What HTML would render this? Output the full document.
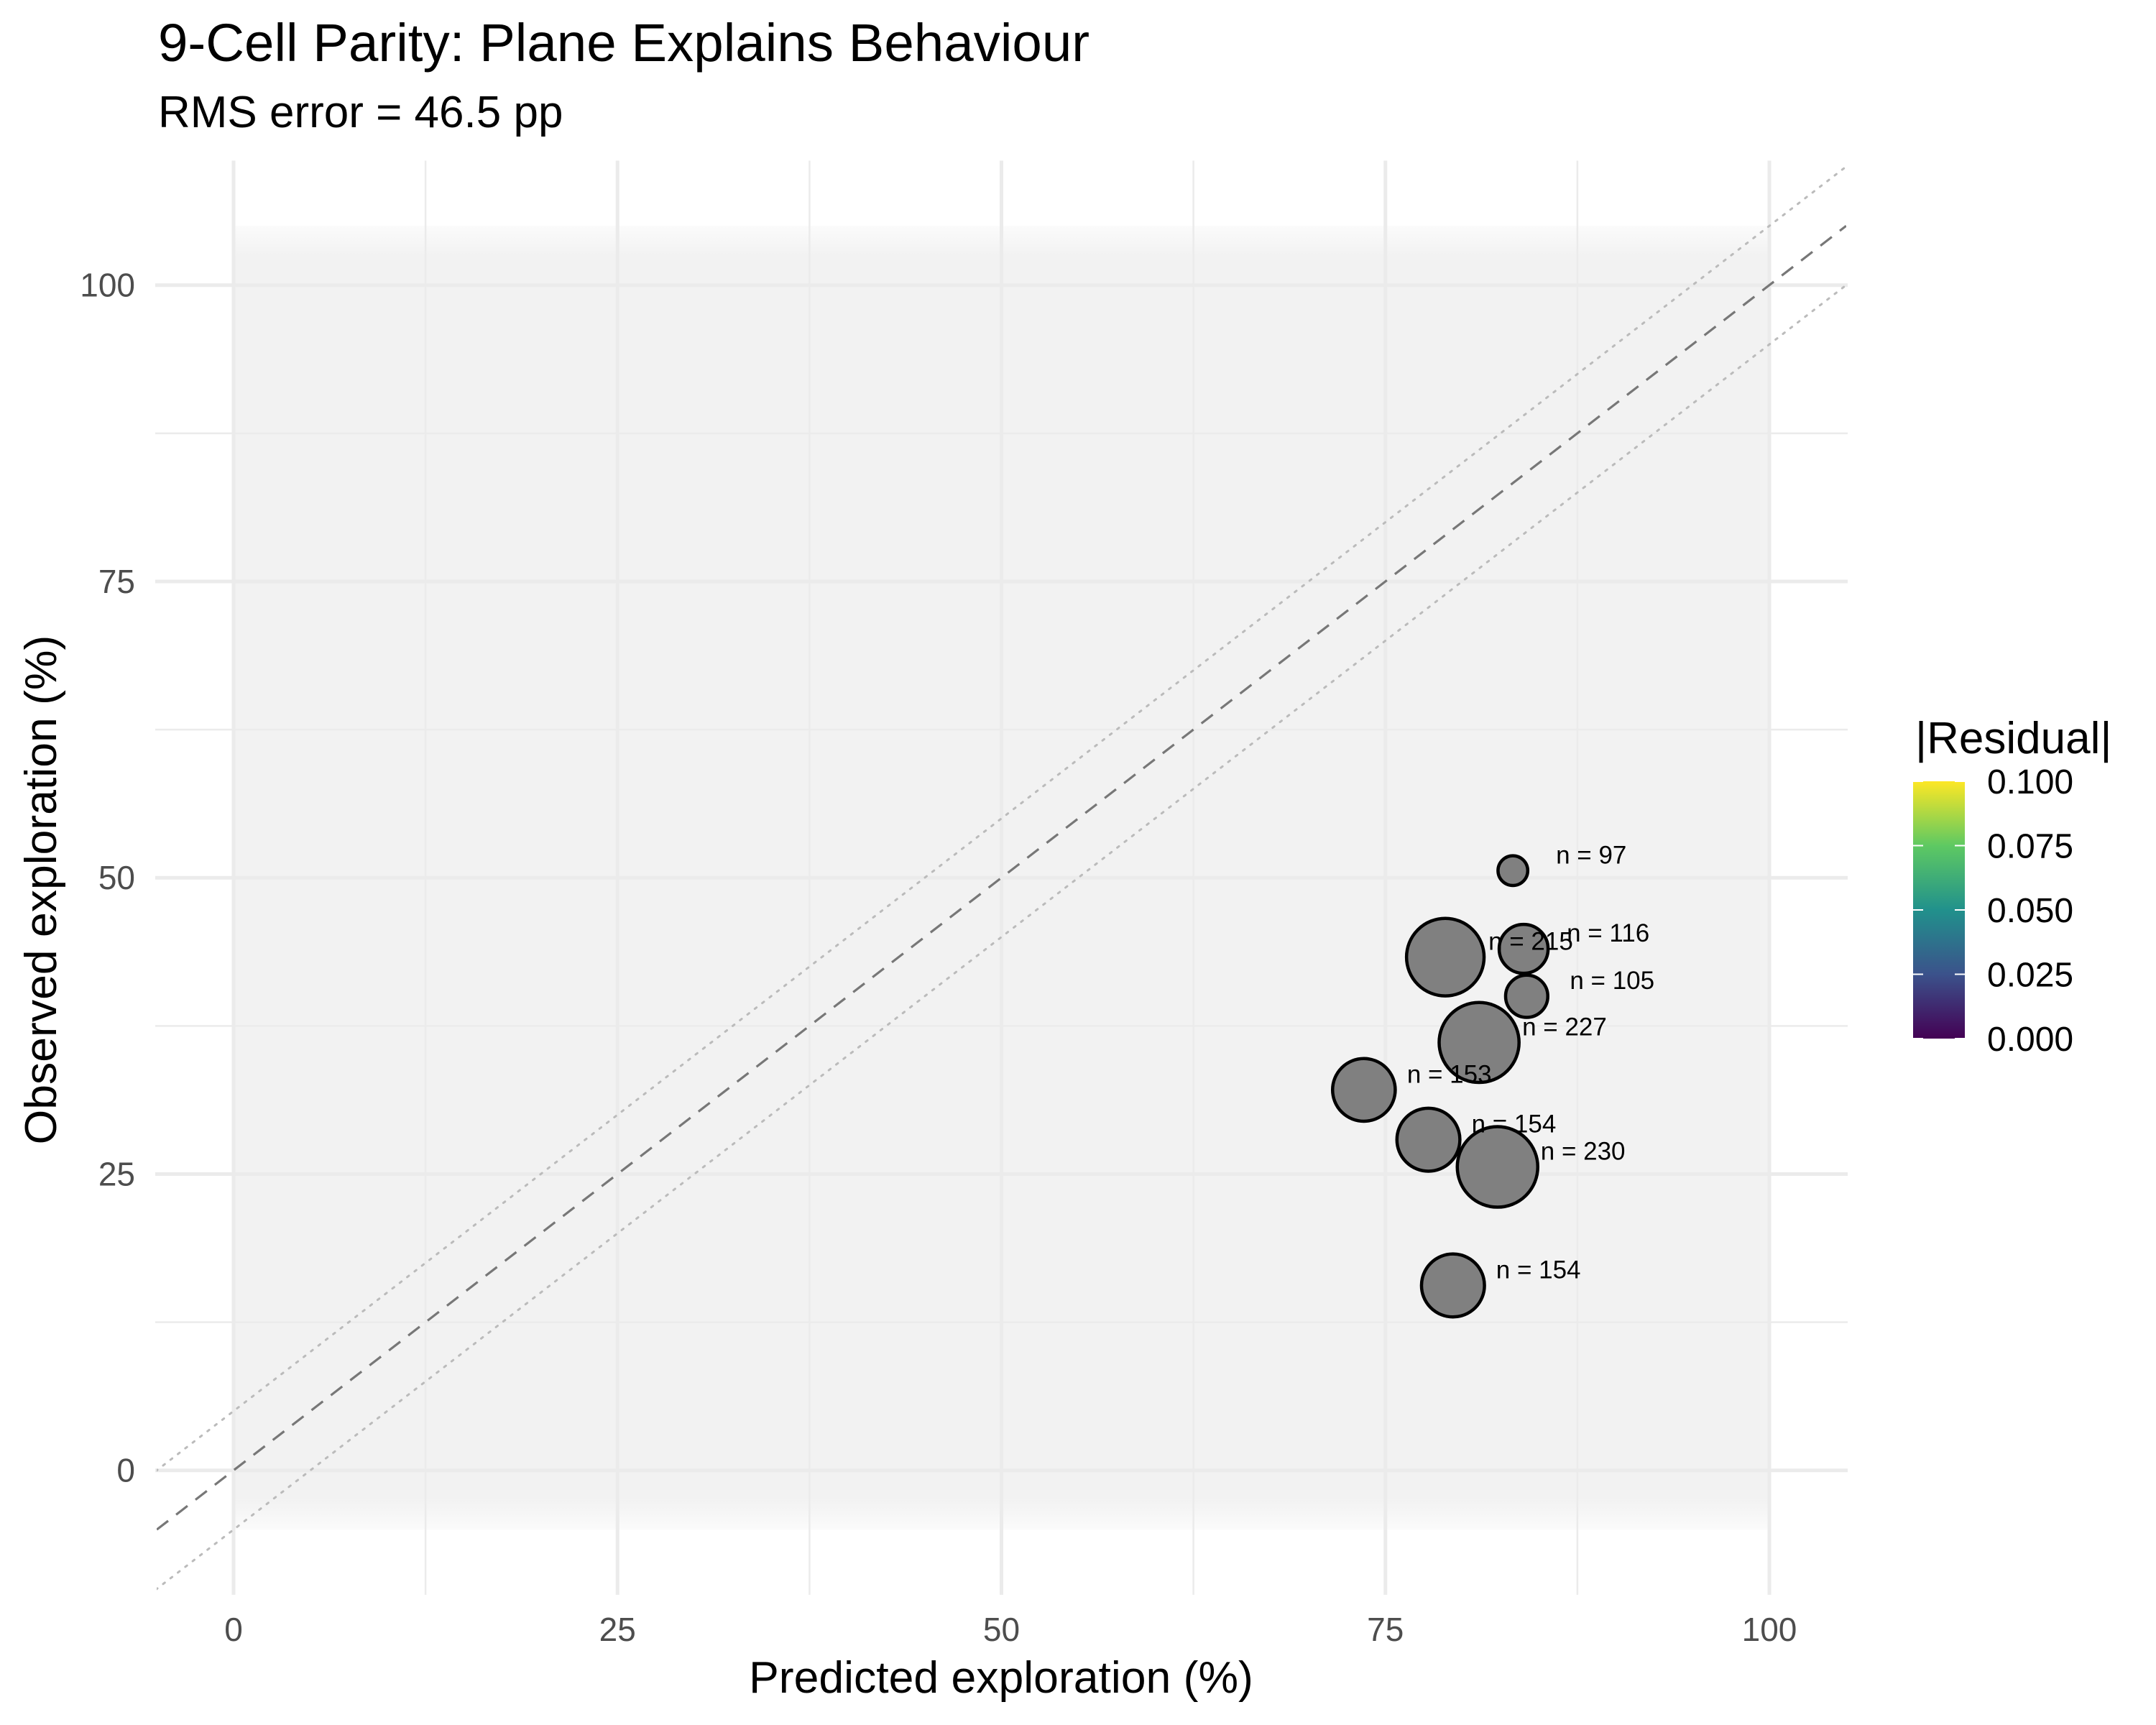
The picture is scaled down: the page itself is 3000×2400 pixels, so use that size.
<!DOCTYPE html>
<html><head><meta charset="utf-8"><style>
body{margin:0;background:#fff}
svg{display:block;font-family:"Liberation Sans",Arial,sans-serif}
</style></head><body>
<svg id="chart" width="3000" height="2400" viewBox="0 0 3000 2400" xmlns="http://www.w3.org/2000/svg">
<defs>
<linearGradient id="vir" x1="0" y1="1" x2="0" y2="0">
<stop offset="0" stop-color="#440154"/><stop offset="0.25" stop-color="#3b528b"/><stop offset="0.5" stop-color="#21918c"/><stop offset="0.75" stop-color="#5ec962"/><stop offset="1" stop-color="#fde725"/>
</linearGradient>
<linearGradient id="fadeT" x1="0" y1="0" x2="0" y2="1"><stop offset="0" stop-color="#f2f2f2" stop-opacity="0.3"/><stop offset="1" stop-color="#f2f2f2" stop-opacity="1"/></linearGradient>
<linearGradient id="fadeB" x1="0" y1="1" x2="0" y2="0"><stop offset="0" stop-color="#f2f2f2" stop-opacity="0.3"/><stop offset="1" stop-color="#f2f2f2" stop-opacity="1"/></linearGradient>
<clipPath id="pclip"><rect x="218" y="223" width="2351" height="1995"/></clipPath>
</defs>
<text x="220" y="85" font-size="74.5" fill="#000">9-Cell Parity: Plane Explains Behaviour</text>
<text x="220" y="177" font-size="62" fill="#000">RMS error = 46.5 pp</text>
<g id="panel"></g>
<text x="1393" y="2355" font-size="62.5" text-anchor="middle" fill="#000">Predicted exploration (%)</text>
<text transform="translate(78,1238) rotate(-90)" font-size="62.5" text-anchor="middle" fill="#000">Observed exploration (%)</text>
<g>
<text x="2665" y="1048" font-size="62" fill="#000">|Residual|</text>
<rect x="2662" y="1087" width="72" height="358" fill="url(#vir)"/>
<g id="legticks"></g>
</g>
</svg>
<script>
const xTicks=[0,25,50,75,100];
const yTicks=[0,25,50,75,100];
const predX=[83.3,84.0,78.9,84.2,81.1,73.6,77.8,82.3,79.4];
const obsY=[50.6,44.0,43.3,40.0,36.1,32.1,27.9,25.6,15.6];
const nVals=[97,116,215,105,227,153,154,230,154];
const legendVals=[0,0.025,0.05,0.075,0.1];
const legendLabels=["0.000","0.025","0.050","0.075","0.100"];

const NS="http://www.w3.org/2000/svg";
const sx=v=>325+v*21.37;
const sy=v=>2045.7-v*16.49;
function mk(tag,attrs,parent){const e=document.createElementNS(NS,tag);for(const k in attrs)e.setAttribute(k,attrs[k]);parent.appendChild(e);return e;}
const svg=document.getElementById('chart');
const panel=document.getElementById('panel');
const X0=-5.1,X1=105.1,Y0=-10.5,Y1=110.5;
let bg=mk('rect',{x:sx(0),y:sy(102.5),width:sx(100)-sx(0),height:sy(-2.5)-sy(102.5),fill:'#f2f2f2'},panel);


let ft=mk('rect',{x:sx(0),y:sy(105),width:sx(100)-sx(0),height:sy(102.5)-sy(105),fill:'url(#fadeT)'},panel);


let fb=mk('rect',{x:sx(0),y:sy(-2.5),width:sx(100)-sx(0),height:sy(-5)-sy(-2.5),fill:'url(#fadeB)'},panel);


for(let i=0;i<xTicks.length-1;i++){
  const m=(xTicks[i]+xTicks[i+1])/2;
  let l=mk('line',{x1:sx(m),x2:sx(m),y1:sy(Y1),y2:sy(Y0),stroke:'#ebebeb','stroke-width':2.5},panel);
  
  
  const my=(yTicks[i]+yTicks[i+1])/2;
  let l2=mk('line',{x1:sx(X0),x2:sx(X1),y1:sy(my),y2:sy(my),stroke:'#ebebeb','stroke-width':2.5},panel);
  
  
}
xTicks.forEach(t=>{
  let l=mk('line',{x1:sx(t),x2:sx(t),y1:sy(Y1),y2:sy(Y0),stroke:'#ebebeb','stroke-width':5},panel);
  
  
  let tx=mk('text',{x:sx(t),y:2283,'font-size':46,'text-anchor':'middle',fill:'#4d4d4d'},svg);
  tx.textContent=t;
  
  
});
yTicks.forEach(t=>{
  let l=mk('line',{x1:sx(X0),x2:sx(X1),y1:sy(t),y2:sy(t),stroke:'#ebebeb','stroke-width':5},panel);
  
  
  let tx=mk('text',{x:188,y:sy(t)+16,'font-size':46,'text-anchor':'end',fill:'#4d4d4d'},svg);
  tx.textContent=t;
  
  
});
const g=mk('g',{'clip-path':'url(#pclip)'},panel);
let d=mk('line',{x1:sx(-5),y1:sy(-5),x2:sx(105),y2:sy(105),stroke:'#777','stroke-width':3.2,'stroke-dasharray':'20 14'},g);


[5,-5].forEach(o=>{
  let l=mk('line',{x1:sx(-20),y1:sy(-20+o),x2:sx(120),y2:sy(120+o),stroke:'#bbb','stroke-width':3,'stroke-dasharray':'3 10','stroke-linecap':'round'},g);
  
  
});
const nMin=Math.min(...nVals),nMax=Math.max(...nVals);
const rr=n=>20.7+(56-20.7)*Math.sqrt((n-nMin)/(nMax-nMin));
for(let i=0;i<nVals.length;i++){
  let c=mk('circle',{cx:sx(predX[i]),cy:sy(obsY[i]),r:rr(nVals[i]),fill:'#808080',stroke:'#000','stroke-width':4.5},panel);
  
  
}
for(let i=0;i<nVals.length;i++){
  let t=mk('text',{x:sx(predX[i])+60,y:sy(obsY[i])-10,'font-size':35,fill:'#000'},panel);
  t.textContent='n = '+nVals[i];
  
  
}
const lt=document.getElementById('legticks');
const ly=v=>1445-v/0.1*358;
legendVals.forEach((v,i)=>{
  let a=mk('line',{x1:2662,x2:2676,y1:ly(v),y2:ly(v),stroke:'#fff','stroke-width':2},lt);
  
  
  let b=mk('line',{x1:2720,x2:2734,y1:ly(v),y2:ly(v),stroke:'#fff','stroke-width':2},lt);
  
  
  let t=mk('text',{x:2765,y:ly(v)+17,'font-size':48,fill:'#000'},lt);
  t.textContent=legendLabels[i];
  
  
});
</script>
</body></html>
